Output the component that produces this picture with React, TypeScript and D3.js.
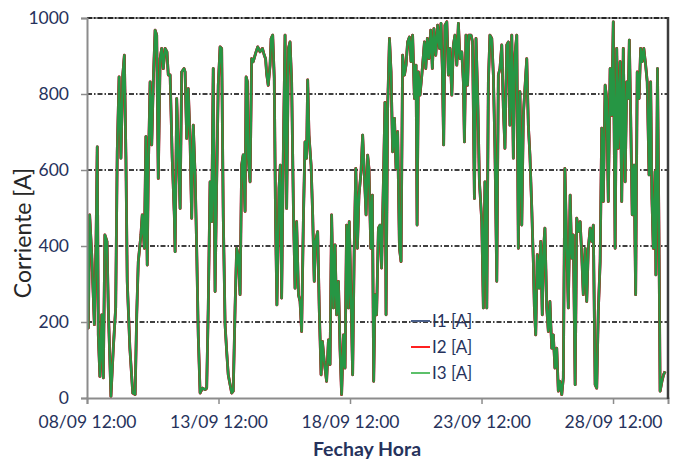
import React, { useRef, useEffect } from 'react';
import * as d3 from 'd3';

// days elapsed since 08/09 12:00
const sampleDays = [
  0.00, 0.05, 0.10, 0.18, 0.28, 0.34, 0.39, 0.43, 0.49, 0.56, 0.62, 0.68, 0.76, 0.81, 0.91, 1.00, 1.09, 1.15, 1.22, 1.29,
  1.36, 1.42, 1.48, 1.53, 1.63, 1.74, 1.83, 1.89, 1.95, 2.05, 2.10, 2.18, 2.24, 2.29, 2.33, 2.40, 2.46, 2.52, 2.59, 2.65,
  2.71, 2.78, 2.84, 2.90, 2.97, 3.04, 3.09, 3.16, 3.24, 3.32, 3.35, 3.41, 3.47, 3.54, 3.60, 3.69,
  3.73, 3.79, 3.85, 3.92, 3.98, 4.04, 4.11, 4.17, 4.23, 4.30, 4.39, 4.49, 4.55, 4.61, 4.68, 4.74, 4.80, 4.87, 4.93, 4.99,
  5.06, 5.12, 5.18, 5.25, 5.31, 5.37, 5.50, 5.56, 5.63, 5.69, 5.75, 5.82, 5.88, 5.94, 6.01, 6.05, 6.10, 6.13, 6.20, 6.26,
  6.32, 6.41, 6.49, 6.58, 6.67, 6.74, 6.79, 6.83, 6.89, 6.96, 7.00, 7.06, 7.12, 7.17, 7.22, 7.30, 7.35, 7.40, 7.47,
  7.53, 7.59, 7.66, 7.72, 7.78, 7.85, 7.91, 7.97, 8.04, 8.10, 8.16, 8.23, 8.29, 8.35, 8.39, 8.44, 8.52, 8.58, 8.64, 8.69,
  8.77, 8.83, 8.90, 8.95, 9.02, 9.11, 9.18, 9.24, 9.30, 9.37, 9.43, 9.49, 9.56, 9.62, 9.68, 9.75, 9.81, 9.87, 9.94, 9.97,
  10.04, 10.10, 10.16, 10.22, 10.28, 10.34, 10.42, 10.48, 10.54, 10.61, 10.67, 10.72, 10.79, 10.85, 10.90, 10.95, 11.01,
  11.08, 11.14, 11.20, 11.27,
  11.33, 11.37, 11.43, 11.50, 11.56, 11.62, 11.69, 11.75, 11.81, 11.88, 11.94, 12.00, 12.07, 12.13, 12.19, 12.26, 12.32,
  12.38, 12.45, 12.51, 12.55, 12.60, 12.66, 12.73, 12.79, 12.83, 12.88, 12.94, 13.00, 13.07, 13.13, 13.19, 13.26, 13.33,
  13.40, 13.46, 13.51, 13.56, 13.61, 13.68, 13.74, 13.80, 13.87, 13.93, 13.99, 14.06, 14.12, 14.18, 14.25, 14.31, 14.35,
  14.41, 14.47, 14.52, 14.60, 14.66, 14.73, 14.79, 14.85, 14.92, 15.01, 15.07,
  15.13, 15.20, 15.26, 15.32, 15.39, 15.45, 15.51, 15.58, 15.64, 15.70, 15.77, 15.83, 15.89, 15.96, 16.02, 16.08, 16.15,
  16.21, 16.27, 16.34, 16.40, 16.46, 16.53, 16.59, 16.65, 16.72, 16.78, 16.84, 16.91, 16.97, 17.01, 17.06, 17.12, 17.19,
  17.25, 17.31, 17.36, 17.41, 17.48, 17.54, 17.60, 17.67, 17.73, 17.79, 17.86, 17.92, 17.98, 18.05, 18.11, 18.17, 18.24,
  18.30, 18.37, 18.43, 18.49, 18.56, 18.62, 18.69,
  18.75, 18.81, 18.87, 18.94, 19.00, 19.06, 19.13, 19.19, 19.25, 19.32, 19.38, 19.44, 19.51, 19.57, 19.63, 19.70, 19.76,
  19.82, 19.89, 19.95, 20.01, 20.08, 20.14, 20.20, 20.27, 20.33, 20.39, 20.46, 20.52, 20.58, 20.62, 20.67, 20.73, 20.80,
  20.86, 20.92, 20.99, 21.05, 21.11, 21.17, 21.24, 21.30, 21.37, 21.43, 21.48, 21.53, 21.60, 21.63, 21.69, 21.74, 21.79,
  21.86, 21.92, 21.98,
];

// phase currents [A]; the three phases overlap in the picture
const i3Values = [
  289, 184, 482, 377, 193, 394, 661, 166, 57, 219, 53, 429, 412, 237, 4, 131, 237, 648, 845, 631,
  850, 902, 631, 307, 131, 13, 9, 219, 359, 429, 482, 394, 688, 350, 596, 832, 666, 832, 968, 955,
  578, 893, 920, 867, 920, 911, 850, 850, 631, 482, 385, 788, 657, 499, 858, 867,
  858, 683, 814, 674, 473, 718, 587, 394, 166, 13, 26, 22, 26, 237, 569, 464, 867, 280, 569, 823,
  924, 920, 482, 193, 123, 61, 13, 18, 237, 394, 377, 272, 613, 640, 491, 845, 832, 631, 569, 893,
  885, 907, 924, 911, 920, 902, 893, 854, 823, 876, 946, 955, 841, 464, 245, 552, 613, 263, 674,
  955, 499, 920, 937, 832, 491, 289, 464, 272, 254, 175, 482, 674, 631, 837, 692, 613, 482, 307, 412,
  438, 237, 61, 149, 96, 44, 153, 88, 482, 237, 403, 219, 307, 131, 9, 166, 79, 455, 237, 464,
  263, 61, 394, 604, 394, 534, 596, 692, 596, 482, 639, 604, 394, 534, 44, 272, 219,
  447, 455, 342, 569,
  778, 219, 762, 946, 858, 648, 736, 604, 701, 394, 359, 902, 850, 876, 937, 950, 885,
  955, 788, 876, 455, 858, 797, 850, 902, 937, 867, 946, 893, 968, 867, 972, 902, 981,
  920, 986, 867, 666, 981, 990, 850, 920, 797, 929, 955, 876, 986, 893, 911, 832, 674,
  955, 823, 955, 955, 937, 525, 946, 806, 569, 464, 237,
  569, 237, 832, 955, 946, 850, 657, 307, 850, 867, 929, 762, 657, 929, 937, 718, 955,
  631, 902, 955, 394, 806, 455, 744, 814, 893, 718, 639, 499, 359, 237, 166, 377, 289,
  412, 219, 394, 447, 237, 175, 254, 131, 166, 79, 131, 18, 44, 9, 53, 604, 394,
  237, 534, 368, 429, 35, 473, 438,
  464, 377, 272, 394, 254, 394, 447, 412, 455, 35, 26, 228, 359, 710, 517, 823, 788,
  517, 867, 744, 990, 394, 920, 657, 885, 517, 920, 569, 832, 788, 942, 744, 482, 613,
  272, 858, 788, 920, 885, 920, 876, 832, 587, 832, 525, 394, 596, 324, 867, 482, 18,
  44, 61, 70,
];
const i1Values = i3Values;
const i2Values = i3Values;

const seriesNames = ['I1 [A]', 'I2 [A]', 'I3 [A]'];
const seriesColors = ['#4a5f8a', '#ff0000', '#00b050'];
const legendColors = ['#4a5f8a', '#ff2020', '#5cc06a'];
const yTicks = [0, 200, 400, 600, 800, 1000];
const xTickDays = [0, 5, 10, 15, 20];
const endDay = 22.09;

export default function App() {
  const svgRef = useRef<SVGSVGElement>(null);

  useEffect(() => {
    if (!svgRef.current) return;
    const root = d3.select(svgRef.current);
    root.selectAll('*').remove();

    const width = 678;
    const height = 461;
    const margin = { top: 18, right: 10, bottom: 63, left: 87 };
    const innerWidth = width - margin.left - margin.right;
    const innerHeight = height - margin.top - margin.bottom;
    const font = 'Lato, "Open Sans", sans-serif';
    const labelColor = '#26325c';

    const start = new Date(2013, 8, 8, 12, 0);
    const dayMs = 24 * 3600 * 1000;
    const toDate = (d: number) => new Date(start.getTime() + d * dayMs);

    const x = d3.scaleTime().domain([start, toDate(endDay)]).range([0, innerWidth]);
    const y = d3.scaleLinear().domain([0, 1000]).range([innerHeight, 0]);

    root.append('rect').attr('width', width).attr('height', height).attr('fill', '#fff');

    const g = root.append('g').attr('transform', `translate(${margin.left},${margin.top})`);

    g.append('defs').append('clipPath').attr('id', 'plotClip')
      .append('rect').attr('width', innerWidth).attr('height', innerHeight + 2).attr('y', -1);

    // top border under the 1000 grid line
    g.append('line')
      .attr('x1', 0).attr('x2', innerWidth).attr('y1', 0).attr('y2', 0)
      .attr('stroke', '#9a9a9a').attr('stroke-width', 2);

    // grid
    g.append('g')
      .selectAll('line')
      .data(yTicks.filter(v => v > 0))
      .enter()
      .append('line')
      .attr('x1', 0)
      .attr('x2', innerWidth)
      .attr('y1', d => y(d))
      .attr('y2', d => y(d))
      .attr('stroke', '#000')
      .attr('stroke-width', 1.3)
      .attr('stroke-dasharray', '5,2,1.5,2');

    // series
    const points = sampleDays.map((d, i) => ({ t: toDate(d), i }));
    const seriesValues = [i1Values, i2Values, i3Values];
    const lines = g.append('g').attr('clip-path', 'url(#plotClip)');
    seriesValues.forEach((vals, s) => {
      const line = d3.line<{ t: Date; i: number }>()
        .x(p => x(p.t))
        .y(p => y(vals[p.i]));
      lines.append('path')
        .datum(points)
        .attr('d', line)
        .attr('fill', 'none')
        .attr('stroke', seriesColors[s])
        .attr('stroke-width', s === 2 ? 2.4 : 2.8)
        .attr('stroke-opacity', s === 2 ? 0.85 : 1)
        .attr('stroke-linejoin', 'round');
    });

    // y axis
    g.append('g')
      .call(d3.axisLeft(y).tickValues(yTicks).tickFormat(d3.format('d')).tickSize(6).tickPadding(12))
      .call(a => a.select('.domain').attr('stroke', '#8c8c8c').attr('stroke-width', 2))
      .call(a => a.selectAll('.tick line').attr('stroke', '#8c8c8c').attr('stroke-width', 1.5))
      .call(a => a.selectAll('text')
        .style('font-family', font)
        .style('font-size', '17.5px')
        .style('fill', labelColor));

    // x axis
    g.append('g')
      .attr('transform', `translate(0,${innerHeight})`)
      .call(d3.axisBottom(x)
        .tickValues(xTickDays.map(toDate))
        .tickFormat(d => d3.timeFormat('%d/%m %H:%M')(d as Date))
        .tickSize(6)
        .tickPadding(12))
      .call(a => a.select('.domain').attr('stroke', '#8c8c8c').attr('stroke-width', 2))
      .call(a => a.selectAll('.tick line').attr('stroke', '#8c8c8c').attr('stroke-width', 1.5))
      .call(a => a.selectAll('text')
        .style('font-family', font)
        .style('font-size', '17.5px')
        .style('fill', labelColor));

    // right border
    g.append('line')
      .attr('x1', innerWidth).attr('x2', innerWidth).attr('y1', -1).attr('y2', innerHeight + 1)
      .attr('stroke', '#3c3c3c').attr('stroke-width', 2.5);

    // axis titles
    root.append('text')
      .attr('transform', `translate(31,${margin.top + innerHeight / 2 + 25}) rotate(-90)`)
      .attr('text-anchor', 'middle')
      .style('font-family', font)
      .style('font-size', '23px')
      .style('fill', '#262626')
      .text('Corriente [A]');

    root.append('text')
      .attr('x', 367)
      .attr('y', 456)
      .attr('text-anchor', 'middle')
      .style('font-family', font)
      .style('font-size', '19.5px')
      .style('font-weight', 'bold')
      .style('fill', labelColor)
      .text('Fechay Hora');

    // legend
    const legend = root.append('g').attr('transform', 'translate(411,321)');
    seriesNames.forEach((name, i) => {
      const row = legend.append('g').attr('transform', `translate(0,${i * 26})`);
      row.append('line')
        .attr('x1', 0).attr('x2', 19).attr('y1', 0).attr('y2', 0)
        .attr('stroke', legendColors[i]).attr('stroke-width', 2);
      row.append('text')
        .attr('x', 21)
        .attr('y', 6)
        .style('font-family', font)
        .style('font-size', '17px')
        .style('fill', labelColor)
        .text(name);
    });
  }, []);

  return (
    <div style={{ position: 'absolute', left: 0, top: 0 }}>
      <svg ref={svgRef} width={678} height={461} style={{ display: 'block' }} />
    </div>
  );
}
